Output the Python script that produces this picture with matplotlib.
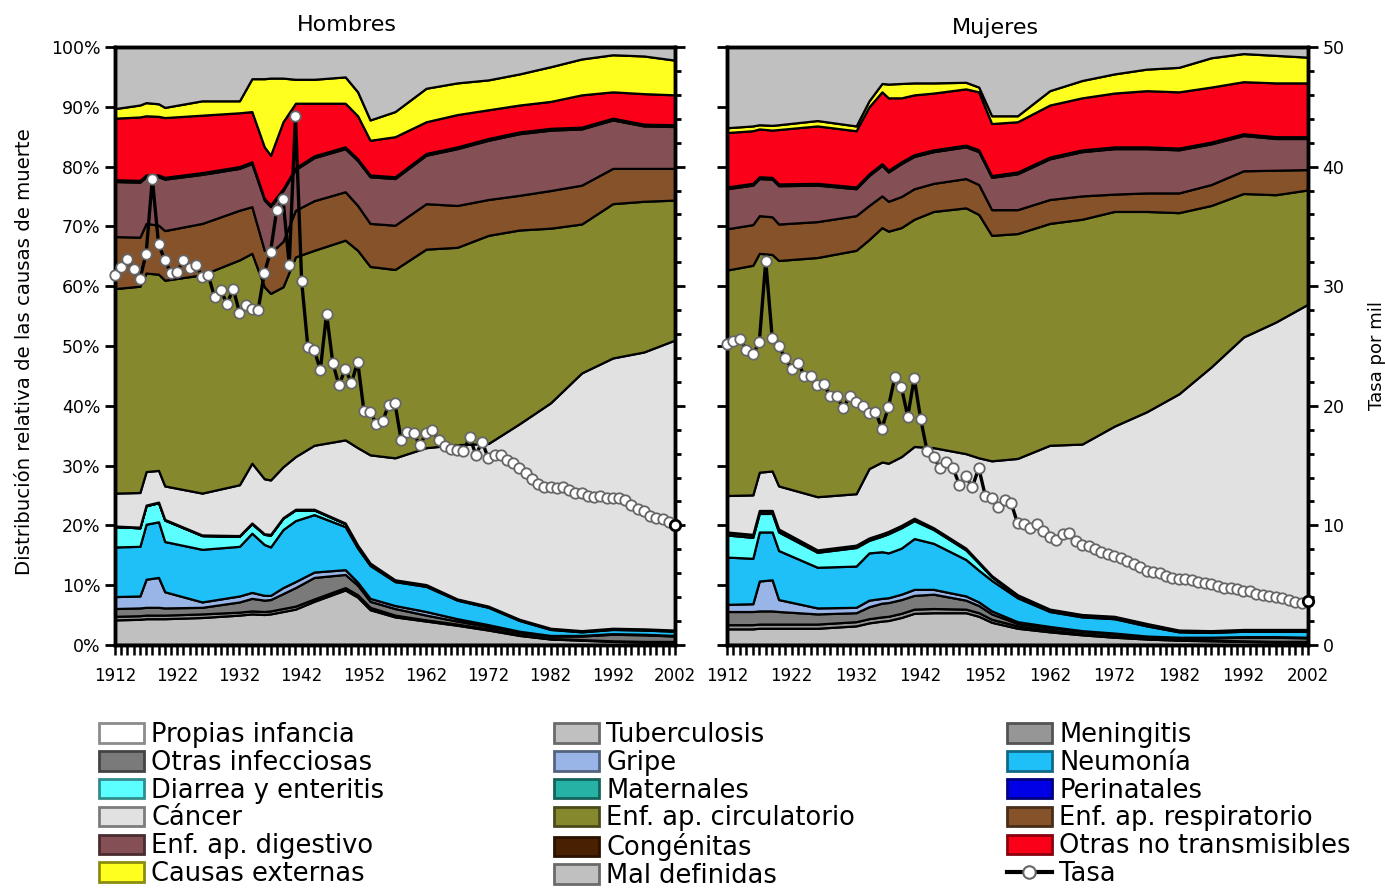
import numpy as np
import matplotlib.pyplot as plt
from matplotlib.ticker import MultipleLocator, FuncFormatter
from matplotlib.patches import Patch
from matplotlib.lines import Line2D
from matplotlib.colors import to_rgb

plt.rcParams['font.family'] = ['DejaVu Sans']

# Años en que se leyó la distribución relativa (%)
anios = [1912, 1916, 1917, 1919, 1920, 1926, 1932, 1934, 1936, 1937, 1939, 1941, 1944,
         1949, 1951, 1953, 1957, 1962, 1967, 1972, 1977, 1982, 1987, 1992, 1997, 2002]
anios_tasa = list(range(1912, 2003))

categorias = ['Propias infancia', 'Tuberculosis', 'Meningitis', 'Otras infecciosas', 'Gripe',
              'Neumonía', 'Diarrea y enteritis', 'Maternales', 'Perinatales', 'Cáncer',
              'Enf. ap. circulatorio', 'Enf. ap. respiratorio', 'Enf. ap. digestivo',
              'Congénitas', 'Otras no transmisibles', 'Causas externas', 'Mal definidas']
colores = ['#FFFFFF', '#C0C0C0', '#969696', '#7A7A7A', '#99B4E6', '#1FBFF7', '#5CFFFF',
           '#26B3A6', '#0000E6', '#E1E1E1', '#86882E', '#85522A', '#855055', '#4A2100',
           '#FA0019', '#FFFF1F', '#C0C0C0']

# --- Hombres (% de cada causa) ---
h_propias_infancia = [0.1, 0.1, 0.1, 0.1, 0.1, 0.1, 0.1, 0.1, 0.1, 0.1, 0.1, 0.1, 0.1,
                      0.1, 0.1, 0.1, 0.1, 0.1, 0.1, 0.1, 0.1, 0.1, 0.1, 0.1, 0.1, 0.1]
h_tuberculosis = [4.1, 4.2, 4.3, 4.3, 4.3, 4.5, 4.9, 5.1, 5.0, 5.1, 5.5, 5.9, 7.2,
                  9.1, 7.9, 5.8, 4.6, 3.9, 3.2, 2.4, 1.5, 0.9, 0.7, 0.5, 0.4, 0.4]
h_meningitis = [0.6, 0.6, 0.6, 0.6, 0.6, 0.6, 0.5, 0.5, 0.5, 0.5, 0.5, 0.5, 0.4,
                0.4, 0.4, 0.4, 0.3, 0.2, 0.2, 0.2, 0.1, 0.1, 0.1, 0.1, 0.1, 0.1]
h_otras_infecciosas = [1.3, 1.3, 1.3, 1.3, 1.2, 1.1, 1.7, 2.1, 1.9, 1.9, 2.5, 3.1, 3.6,
                       2.2, 1.6, 1.0, 1.1, 0.8, 0.5, 0.4, 0.4, 0.4, 0.6, 1.1, 1.1, 0.9]
h_gripe = [2.0, 2.0, 4.7, 5.0, 2.7, 0.9, 1.0, 1.0, 0.8, 0.7, 1.0, 1.0, 0.9,
           0.8, 0.5, 0.5, 0.5, 0.6, 0.4, 0.3, 0.2, 0.1, 0.1, 0.1, 0.1, 0.1]
h_neumonia = [8.3, 8.3, 9.2, 9.3, 8.4, 8.8, 8.3, 9.9, 8.5, 8.1, 9.7, 10.2, 9.6,
              7.2, 5.7, 5.5, 4.0, 4.2, 3.1, 2.9, 1.8, 1.0, 0.6, 0.7, 0.7, 0.7]
h_diarrea = [3.4, 3.1, 3.1, 3.2, 3.6, 2.3, 1.7, 1.6, 1.7, 2.0, 1.9, 1.8, 0.8,
             0.5, 0.4, 0.3, 0.2, 0.2, 0.1, 0.1, 0.1, 0.1, 0.1, 0.1, 0.1, 0.1]
h_maternales = [0.0, 0.0, 0.0, 0.0, 0.0, 0.0, 0.0, 0.0, 0.0, 0.0, 0.0, 0.0, 0.0,
                0.0, 0.0, 0.0, 0.0, 0.0, 0.0, 0.0, 0.0, 0.0, 0.0, 0.0, 0.0, 0.0]
h_perinatales = [0.1, 0.1, 0.1, 0.1, 0.1, 0.1, 0.1, 0.1, 0.1, 0.1, 0.1, 0.1, 0.1,
                 0.1, 0.1, 0.1, 0.1, 0.1, 0.1, 0.1, 0.1, 0.1, 0.1, 0.1, 0.1, 0.1]
h_cancer = [5.5, 5.8, 5.6, 5.3, 5.6, 7.0, 8.5, 10.0, 9.2, 9.1, 8.5, 8.8, 10.7,
            13.9, 16.3, 18.1, 20.4, 22.9, 25.8, 27.2, 32.7, 37.7, 43.1, 45.2, 46.3, 48.5]
h_circulatorio = [34.2, 34.5, 33.2, 32.8, 34.4, 36.5, 37.6, 35.1, 32.1, 31.2, 30.1, 33.4, 32.6,
                  33.4, 33.0, 31.5, 31.5, 33.2, 33.0, 34.8, 32.4, 29.2, 24.9, 25.8, 25.2, 23.4]
h_respiratorio = [8.7, 8.2, 8.3, 8.2, 8.3, 8.6, 8.3, 7.8, 6.1, 6.8, 7.6, 7.8, 8.3,
                  8.1, 7.5, 7.2, 7.4, 7.6, 7.0, 6.0, 5.8, 6.3, 6.5, 5.9, 5.5, 5.3]
h_digestivo = [9.2, 9.2, 7.8, 8.1, 8.6, 8.2, 7.0, 7.2, 8.4, 7.7, 8.5, 6.8, 7.2,
               7.2, 7.5, 7.8, 7.8, 8.1, 9.5, 9.9, 10.3, 10.1, 9.4, 8.1, 7.1, 7.0]
h_congenitas = [0.3, 0.3, 0.3, 0.3, 0.3, 0.3, 0.3, 0.3, 0.3, 0.3, 0.3, 0.3, 0.3,
                0.3, 0.3, 0.3, 0.3, 0.3, 0.3, 0.3, 0.3, 0.3, 0.3, 0.3, 0.3, 0.3]
h_otras_no_transmisibles = [10.3, 10.6, 9.9, 9.8, 10.0, 9.6, 9.0, 8.4, 8.6, 8.3, 11.2, 10.8, 8.8,
                            7.3, 7.2, 5.8, 6.7, 5.3, 5.4, 4.8, 4.5, 4.5, 5.4, 4.4, 5.1, 5.0]
h_causas_externas = [1.6, 2.0, 2.2, 2.1, 1.7, 2.4, 2.0, 5.5, 11.4, 12.9, 7.3, 4.0, 4.0,
                     4.4, 4.0, 3.4, 4.2, 5.6, 5.3, 5.0, 5.2, 5.8, 6.0, 6.2, 6.3, 5.8]
h_mal_definidas = [10.3, 9.7, 9.3, 9.5, 10.1, 9.0, 9.0, 5.3, 5.3, 5.2, 5.2, 5.4, 5.4,
                   5.0, 7.5, 12.2, 10.8, 6.9, 6.0, 5.5, 4.5, 3.3, 2.0, 1.3, 1.5, 2.2]

# --- Mujeres (% de cada causa) ---
m_propias_infancia = [0.1, 0.1, 0.1, 0.1, 0.1, 0.1, 0.1, 0.1, 0.1, 0.1, 0.1, 0.1, 0.1,
                      0.1, 0.1, 0.1, 0.1, 0.1, 0.1, 0.1, 0.1, 0.1, 0.1, 0.1, 0.1, 0.1]
m_tuberculosis = [2.6, 2.6, 2.7, 2.7, 2.7, 2.7, 3.1, 3.6, 3.9, 4.0, 4.5, 5.2, 5.3,
                  5.3, 4.7, 3.7, 2.7, 2.1, 1.6, 1.2, 0.9, 0.7, 0.6, 0.5, 0.4, 0.4]
m_meningitis = [0.7, 0.7, 0.7, 0.7, 0.7, 0.7, 0.7, 0.7, 0.7, 0.7, 0.7, 0.7, 0.7,
                0.6, 0.6, 0.5, 0.4, 0.3, 0.2, 0.2, 0.1, 0.1, 0.1, 0.1, 0.1, 0.1]
m_otras_infecciosas = [2.2, 2.2, 2.2, 2.2, 2.1, 1.7, 1.5, 2.0, 2.3, 2.3, 2.3, 2.3, 2.4,
                       1.5, 1.2, 0.9, 0.4, 0.4, 0.4, 0.4, 0.3, 0.3, 0.4, 0.6, 0.7, 0.6]
m_gripe = [1.2, 1.3, 5.0, 5.2, 2.0, 1.0, 0.9, 1.1, 0.8, 0.8, 0.9, 1.0, 0.8,
           0.7, 0.6, 0.5, 0.3, 0.2, 0.1, 0.1, 0.1, 0.1, 0.1, 0.1, 0.1, 0.1]
m_neumonia = [7.9, 7.6, 8.2, 8.0, 8.2, 6.8, 6.9, 7.9, 7.8, 7.5, 7.7, 8.5, 7.7,
              6.1, 5.3, 5.1, 4.0, 2.5, 2.3, 2.4, 1.7, 0.9, 0.8, 0.9, 0.9, 1.0]
m_diarrea = [3.7, 3.5, 3.1, 3.1, 3.1, 2.5, 3.1, 2.1, 2.6, 3.2, 3.4, 3.0, 2.3,
             1.6, 1.2, 0.6, 0.3, 0.2, 0.2, 0.2, 0.2, 0.1, 0.1, 0.1, 0.1, 0.1]
m_maternales = [0.4, 0.4, 0.4, 0.4, 0.4, 0.3, 0.3, 0.3, 0.3, 0.3, 0.3, 0.3, 0.2,
                0.2, 0.1, 0.1, 0.1, 0.1, 0.1, 0.1, 0.1, 0.1, 0.1, 0.1, 0.1, 0.1]
m_perinatales = [0.1, 0.1, 0.1, 0.1, 0.1, 0.1, 0.1, 0.1, 0.1, 0.1, 0.1, 0.1, 0.1,
                 0.1, 0.1, 0.1, 0.1, 0.1, 0.1, 0.1, 0.1, 0.1, 0.1, 0.1, 0.1, 0.1]
m_cancer = [6.1, 6.6, 6.4, 6.6, 7.2, 8.9, 8.6, 11.6, 12.0, 11.4, 11.5, 12.0, 13.4,
            15.8, 17.4, 19.2, 22.8, 27.4, 28.5, 31.8, 35.4, 39.5, 44.1, 48.9, 51.4, 54.4]
m_circulatorio = [37.7, 38.4, 36.6, 36.2, 37.7, 40.0, 40.7, 38.3, 39.2, 38.8, 38.3, 38.0, 39.5,
                  41.1, 40.7, 37.7, 37.6, 37.1, 37.6, 35.9, 33.5, 30.3, 27.0, 24.0, 21.3, 19.1]
m_respiratorio = [6.9, 6.8, 6.3, 6.3, 6.1, 6.0, 5.8, 5.7, 5.3, 5.0, 5.2, 5.1, 4.7,
                  4.9, 5.0, 4.3, 4.0, 4.0, 3.9, 2.9, 3.1, 3.3, 3.5, 3.8, 4.1, 3.4]
m_digestivo = [6.7, 6.6, 6.2, 6.3, 6.4, 6.1, 4.5, 5.0, 5.1, 4.9, 5.5, 5.4, 5.3,
               5.3, 5.5, 5.4, 6.0, 6.8, 7.4, 7.6, 7.4, 7.2, 6.8, 5.9, 5.3, 5.2]
m_congenitas = [0.3, 0.3, 0.3, 0.3, 0.3, 0.3, 0.3, 0.3, 0.3, 0.3, 0.3, 0.3, 0.3,
                0.3, 0.3, 0.3, 0.3, 0.3, 0.3, 0.3, 0.3, 0.3, 0.3, 0.3, 0.3, 0.3]
m_otras_no_transmisibles = [9.1, 8.8, 8.0, 7.9, 9.1, 9.6, 9.4, 11.2, 12.0, 12.1, 10.7, 10.0, 9.5,
                            9.4, 9.7, 8.7, 8.4, 8.7, 8.7, 9.0, 9.4, 9.4, 9.2, 8.7, 9.0, 9.0]
m_causas_externas = [0.8, 0.8, 0.7, 0.8, 0.8, 0.9, 0.8, 1.0, 1.4, 2.3, 2.4, 2.0, 1.7,
                     1.1, 0.8, 1.3, 1.0, 2.4, 2.9, 3.2, 3.6, 4.1, 4.9, 4.7, 4.6, 4.3]
m_mal_definidas = [13.5, 13.2, 13.0, 13.1, 13.0, 12.3, 13.2, 9.0, 6.1, 6.2, 6.1, 6.0, 6.0,
                   5.9, 6.7, 11.5, 11.5, 7.3, 5.6, 4.5, 3.7, 3.4, 1.8, 1.1, 1.4, 1.7]

# --- Tasa por mil, 1912-2002 ---
tasa_hombres = [30.9, 31.6, 32.3, 31.4, 30.6, 32.7, 39.0, 33.5, 32.2, 31.1,   # 1912-1921
                31.2, 32.2, 31.5, 31.8, 30.8, 30.9, 29.1, 29.7, 28.5, 29.8,   # 1922-1931
                27.8, 28.4, 28.1, 28.0, 31.1, 32.9, 36.4, 37.3, 31.8, 44.2,   # 1932-1941
                30.4, 24.9, 24.7, 23.0, 27.7, 23.6, 21.7, 23.1, 21.9, 23.7,   # 1942-1951
                19.6, 19.5, 18.5, 18.7, 20.1, 20.2, 17.1, 17.8, 17.7, 16.7,   # 1952-1961
                17.7, 18.0, 17.1, 16.6, 16.4, 16.3, 16.2, 17.4, 15.9, 17.0,   # 1962-1971
                15.6, 15.9, 15.9, 15.5, 15.2, 14.8, 14.4, 13.9, 13.5, 13.2,   # 1972-1981
                13.2, 13.1, 13.2, 13.0, 12.7, 12.7, 12.5, 12.4, 12.5, 12.3,   # 1982-1991
                12.3, 12.3, 12.1, 11.7, 11.4, 11.2, 10.8, 10.6, 10.5, 10.3,   # 1992-2001
                10.0]                                                         # 2002
tasa_mujeres = [25.2, 25.4, 25.6, 24.7, 24.3, 25.3, 32.1, 25.7, 25.0, 24.0,   # 1912-1921
                23.1, 23.6, 22.5, 22.5, 21.7, 21.8, 20.8, 20.8, 19.8, 20.8,   # 1922-1931
                20.3, 20.0, 19.4, 19.5, 18.1, 19.9, 22.4, 21.6, 19.1, 22.3,   # 1932-1941
                18.9, 16.2, 15.7, 14.8, 15.3, 14.8, 13.4, 14.1, 13.2, 14.8,   # 1942-1951
                12.5, 12.3, 11.5, 12.1, 11.9, 10.2, 10.1, 9.8, 10.1, 9.5,     # 1952-1961
                9.0, 8.8, 9.3, 9.4, 8.7, 8.4, 8.3, 8.0, 7.8, 7.6,             # 1962-1971
                7.4, 7.3, 7.0, 6.8, 6.5, 6.2, 6.1, 6.0, 5.8, 5.6,             # 1972-1981
                5.5, 5.5, 5.4, 5.3, 5.2, 5.1, 4.9, 4.8, 4.8, 4.7,             # 1982-1991
                4.5, 4.5, 4.3, 4.2, 4.1, 4.0, 3.9, 3.8, 3.6, 3.5,             # 1992-2001
                3.7]                                                          # 2002

hombres = [h_propias_infancia, h_tuberculosis, h_meningitis, h_otras_infecciosas, h_gripe,
           h_neumonia, h_diarrea, h_maternales, h_perinatales, h_cancer, h_circulatorio,
           h_respiratorio, h_digestivo, h_congenitas, h_otras_no_transmisibles,
           h_causas_externas, h_mal_definidas]
mujeres = [m_propias_infancia, m_tuberculosis, m_meningitis, m_otras_infecciosas, m_gripe,
           m_neumonia, m_diarrea, m_maternales, m_perinatales, m_cancer, m_circulatorio,
           m_respiratorio, m_digestivo, m_congenitas, m_otras_no_transmisibles,
           m_causas_externas, m_mal_definidas]


def dibujar_panel(ax, partes, tasa, izquierda):
    datos = np.array(partes, dtype=float)
    datos = datos / datos.sum(axis=0) * 100  # distribución relativa
    ax.stackplot(anios, datos, colors=colores, edgecolor='black', linewidth=1.6)
    ax.set_xlim(1912, 2002)
    ax.set_ylim(0, 100)

    ax.xaxis.set_major_locator(MultipleLocator(10, offset=2))
    ax.xaxis.set_minor_locator(MultipleLocator(1))
    ax.yaxis.set_major_locator(MultipleLocator(10))
    ax.yaxis.set_major_formatter(FuncFormatter(lambda v, p: f'{v:.0f}%'))
    ax.tick_params(axis='x', which='both', direction='out', length=7, width=1.8,
                   labelsize=12, pad=9)
    ax.tick_params(axis='y', direction='out', length=7, width=2, labelsize=12.5,
                   labelleft=izquierda)

    ax2 = ax.twinx()
    ax2.plot(anios_tasa, tasa, '-o', color='black', lw=2.4, ms=7.5, mfc='white',
             mec='#666666', mew=1.3, clip_on=False, zorder=5)
    ax2.plot(anios_tasa[-1], tasa[-1], 'o', ms=7.5, mfc='white', mec='black', mew=2,
             clip_on=False, zorder=6)
    ax2.set_ylim(0, 50)
    ax2.yaxis.set_major_locator(MultipleLocator(10))
    ax2.yaxis.set_minor_locator(MultipleLocator(2))
    ax2.tick_params(axis='y', which='major', direction='out', length=7, width=2,
                    labelsize=12.5, labelright=not izquierda)
    ax2.tick_params(axis='y', which='minor', direction='out', length=4, width=2)

    for a in (ax, ax2):
        for s in a.spines.values():
            s.set_linewidth(2.5)
            s.set_color('black')
    return ax2


fig = plt.figure(figsize=(13.85, 8.93), dpi=100)
ax_h = fig.add_axes([115 / 1385, 248 / 893, 560 / 1385, 598 / 893])
ax_m = fig.add_axes([727 / 1385, 248 / 893, 581 / 1385, 598 / 893])

dibujar_panel(ax_h, hombres, tasa_hombres, True)
dibujar_panel(ax_m, mujeres, tasa_mujeres, False)

fig.text(347 / 1385, 1 - 25 / 893, 'Hombres', ha='center', va='center', fontsize=16)
fig.text(995 / 1385, 1 - 28 / 893, 'Mujeres', ha='center', va='center', fontsize=16)
fig.text(25 / 1385, 1 - 352 / 893, 'Distribución relativa de las causas de muerte',
         rotation=90, ha='center', va='center', fontsize=14.2)
fig.text(1377 / 1385, 1 - 355 / 893, 'Tasa por mil', rotation=90, ha='center',
         va='center', fontsize=13)

# Leyenda: tres columnas leídas por filas, en el mismo orden que el apilado
handles = []
for c in colores:
    borde = tuple(np.array(to_rgb(c)) * 0.55)
    handles.append(Patch(facecolor=c, edgecolor=borde, linewidth=2))
handles.append(Line2D([], [], color='black', lw=3, marker='o', ms=9, mfc='white',
                      mec='#666666', mew=1.5))
etiquetas = categorias + ['Tasa']

for col, x0 in enumerate([99 / 1385, 554 / 1385, 1007 / 1385]):
    fig.legend(handles[col::3], etiquetas[col::3], loc='upper left',
               bbox_to_anchor=(x0, 1 - 722 / 893), frameon=False, fontsize=18.5,
               handlelength=1.75, handleheight=0.78, handletextpad=0.28,
               labelspacing=0.07, borderpad=0, borderaxespad=0)

fig.savefig('out.png', dpi=100)
